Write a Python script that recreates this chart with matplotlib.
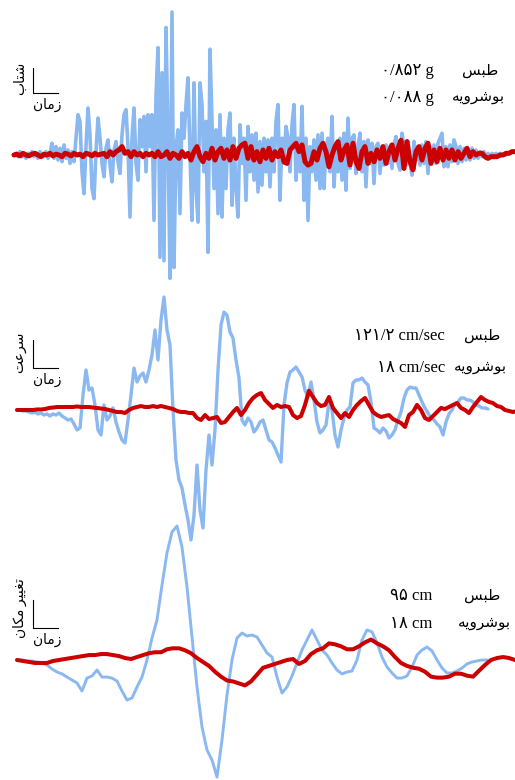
import numpy as np
import matplotlib.pyplot as plt
from matplotlib.lines import Line2D

W, H = 515, 780
BLUE = '#8ab8f0'
RED = '#cc0000'
FAM = ['Liberation Serif', 'DejaVu Sans']

# ---- acceleration (g) ----
# Tabas, one sample every 0.2 s
tabas_acc = np.array([
    0, 0.01, -0.01, 0.02, -0.01, 0.01, -0.02, 0.01, 0, 0.02, -0.01, 0.01, -0.02, 0.02, 0, -0.01, 0.02, -0.02, 0.01,
    0.07, -0.02, 0.05, -0.03, 0.04, -0.04, 0.06, -0.02, 0.03, -0.05, 0.02, -0.04,
    0.10, 0.24, 0.20, -0.10, -0.23, 0.05, 0.28, 0.12, -0.20, -0.26, 0.02, 0.22, 0.10,
    -0.05, -0.13, 0.04, 0.09, -0.06, -0.16, 0.03, 0.08, -0.04, -0.11,
    0.12, 0.24, 0.27, 0.05, -0.37, 0.10, 0.28, -0.05, -0.15, 0.21, 0.05, 0.23, -0.10, 0.24, 0.05, 0.24,
    -0.39, 0.35, 0.64, -0.61, 0.49, -0.63, 0.76, 0.10, -0.735, 0.852, -0.67, 0.05, 0.15, -0.35,
    0.25, 0.10, 0.30, 0.46, 0.0, -0.39, 0.43, -0.20, -0.40, 0.43, 0.30, -0.10, 0.20,
    -0.58, 0.63, 0.20, -0.20, 0.15, -0.35, 0.24,
    -0.37, 0.10, -0.20, 0.15, 0.25, -0.30, 0.10, -0.20, -0.37, 0.18,
    -0.05, 0.10, -0.27, 0.17, -0.10, 0.12, -0.15, 0.13, -0.22, 0.08, -0.18, 0.10, -0.10, 0.09, -0.19,
    0.10, -0.10, 0.20, 0.30, -0.27, 0.10, -0.05, 0.17, 0.10, -0.10, 0.18, 0.30, -0.15, 0.10, -0.10,
    0.29, -0.27, 0.10, -0.39, 0.05, -0.10, 0.09, -0.15, 0.12, -0.20, 0.13, -0.20, 0.05, 0.10, -0.10,
    0.23, -0.19, 0.05, -0.10, 0.10, -0.15, 0.13, -0.21, 0.22, -0.08, 0.10, 0.12, -0.11, 0.05, 0.13,
    -0.10, 0.08, -0.19, 0.09, -0.05, 0.07, -0.17, 0.05, 0.07, -0.11, 0.05, -0.06, 0.06, -0.05, 0.05,
    -0.08, 0.06, 0.11, -0.05, -0.09, 0.13, 0.05, -0.06, 0.08, -0.05, -0.12, 0.08, -0.03, 0.05, -0.06,
    0.06, -0.05, 0.08, -0.11, 0.05, -0.04, 0.06, -0.05, 0.07, 0.10, 0.13, -0.07, 0.05, -0.07, 0.06,
    -0.04, 0.09, 0.05, -0.05, 0.05, -0.04, 0.04, -0.03, 0.03, -0.03, 0.04, -0.02, 0.03, -0.02, 0.02,
    -0.01, 0.02, -0.02, 0.01, -0.01, 0.01, 0, 0.01, -0.01, 0.01, 0, 0, 0,
])
# Boushehrieh, one sample every 0.3 s
boush_acc = np.array([
    0, 0.005, -0.005, 0.01, 0, -0.005, 0.005, 0.01, 0, -0.01, 0.005, 0, 0.01, -0.005, 0.005,
    0, -0.01, 0.01, 0.005, -0.005, 0.01, 0, 0.005, -0.01, 0.01, 0.005, -0.005, 0.01, 0, 0.005,
    0.01, -0.01, 0.02, 0.0, 0.02, 0.03, 0.05, 0.01, 0.02, -0.01, 0.02, 0.0, 0.01, -0.01, 0.01, 0.0,
    0.01, -0.01, 0.02, -0.01, 0.0, 0.02, -0.02, 0.01, 0.0, -0.02, 0.02, -0.01, 0.01, -0.03, 0.02, 0.05,
    -0.01, -0.04, 0.01, -0.02, 0.04, -0.03, 0.02, 0.04, -0.02, 0.03, -0.03, 0.05, -0.02, 0.04, 0.06, 0.07,
    -0.02, 0.05, -0.03, 0.02, -0.04, 0.03, -0.02, 0.04, -0.03, 0.02, -0.01, 0.03, -0.04, -0.05, 0.03, 0.05,
    0.07, 0.02, 0.06, -0.04, -0.06, -0.05, 0.02, -0.03, 0.04, 0.07, 0.02, -0.07, 0.0, 0.05, 0.08, -0.03,
    0.03, 0.06, -0.06, 0.07, -0.04, -0.08, 0.02, 0.05, -0.05, 0.01, -0.04, 0.03, -0.02, 0.05, -0.05, 0.02,
    0.06, -0.03, 0.04, 0.088, -0.08, 0.08, -0.04, -0.088, 0.02, 0.05, -0.03, 0.04, 0.07, -0.05, 0.03, -0.04,
    0.04, -0.03, 0.03, -0.02, 0.03, -0.03, 0.02, -0.02, 0.01, 0.04, -0.01, 0.02, 0.0, 0.01, 0.01, -0.01,
    -0.02, -0.01, -0.01, -0.01, 0.0, 0.0, 0.01, 0.01, 0.02, 0.02,
])

# ---- velocity (cm/sec) ----
# Tabas, one sample every 0.3 s
tabas_vel = np.array([
    0, 0, -0.9, -0.9, -1.9, -2.8, -1.9, -3.7, -2.8, -4.7, -3.7, -5.6, -3.7, -4.7, -2.8, -5.6, -7.5, -9.3,
    -8.4, -13.0, -18.6, -16.8, 14.0, 37.3, 18.6, 20.5, 4.7, -18.6, -23.3, 4.7, -9.3, -5.6, 1.9, -11.2,
    -20.5, -28.0, -30.8, -9.3, 14.0, 39.1, 26.1, 31.7, 34.5, 26.1, 37.3, 51.3, 74.6, 46.6, 83.9, 105.3,
    74.6, 60.6, 0, -46.6, -65.2, -72.7, -88.5, -102.5, -121.2, -97.9, -51.3, -93.2, -110.0, -55.9, -23.3,
    -51.3, -18.6, 37.3, 79.2, 91.3, 88.5, 72.7, 67.1, 46.6, 29.8, -9.3, -14.0, -7.5, -11.2, -20.5, -16.8,
    -11.2, -9.3, -18.6, -28.0, -29.8, -35.4, -41.9, -48.5, 4.7, 25.2, 35.4, 37.3, 40.1, 35.4, 30.8, 18.6,
    12.1, 26.1, 9.3, -11.2, -21.4, -18.6, -14.0, 7.5, 0, -23.3, -34.5, -18.6, -7.5, 0, 2.8, 25.2, 28.0,
    28.0, 29.8, 26.1, 23.3, 7.5, -16.8, -18.6, -21.4, -16.8, -19.6, -26.1, -23.3, -18.6, -9.3, -1.9, 11.2,
    18.6, 21.4, 20.5, 20.5, 14.0, 7.5, 1.9, -2.8, -7.5, -9.3, -13.0, -15.8, -23.3, -11.2, -3.7, 0, 5.6,
    7.5, 11.2, 11.2, 9.3, 9.3, 7.5, 4.7, 3.7, 1.9, 1.9, 0.9,
])
# Boushehrieh, one sample every 0.4 s
boush_vel = np.array([
    0, 0, 0, 0, 0, 0.5, 0.5, 0.9, 1.9, 2.3,
    2.8, 2.8, 2.8, 2.8, 2.8, 3.3, 2.8, 2.8, 2.8, 2.3,
    1.9, 1.4, 0.9, 0, -0.9, -1.9, -1.9, -2.8, 0, 1.9,
    2.8, 3.7, 2.8, 2.8, 3.7, 2.8, 3.7, 2.8, 1.9, 0.9,
    -0.9, -1.9, -1.9, -2.8, -2.8, -7.5, -9.3, -4.7, -8.4, -7.5,
    -6.5, -12.1, -11.2, -6.5, -1.9, 1.9, -4.7, 0, 6.5, 11.2,
    14.0, 15.8, 9.3, 5.6, 1.9, 4.7, 2.8, 3.7, 2.8, -4.7,
    -7.5, -5.6, 4.7, 18.0, 12.1, 6.5, 3.7, 4.7, 12.1, 1.9,
    -2.8, -7.5, -2.8, -6.5, 0, 4.7, 8.4, 11.2, 4.7, -1.9,
    -4.7, -6.5, -5.6, -4.7, -8.4, -10.3, -12.1, -15.8, -4.7, -1.9,
    4.7, 0, -7.5, -9.3, -5.6, -1.9, 1.9, 0.9, 2.8, 4.7,
    6.5, 1.9, 0, -2.8, 2.8, 7.5, 12.1, 9.3, 7.5, 6.5,
    3.7, 2.8, 0, -0.9, -1.9, -0.9,
])

# ---- displacement (cm) ----
# Tabas, one sample every 0.5 s
tabas_disp = np.array([
    0, 0, -0.7, -0.7, -1.4, -2.1, -3.5, -6.4, -8.5, -9.9, -12.1, -14.2, -16.3, -22.0, -12.8, -11.3,
    -7.1, -12.1, -12.1, -12.8, -14.9, -22.0, -28.4, -26.9, -19.1, -12.1, 0, 15.6, 28.4, 53.2, 75.9,
    90.8, 95.0, 80.1, 51.8, 16.3, -19.1, -47.5, -63.8, -70.9, -83.0, -56.7, -24.8, 0, 15.6, 19.1, 17.0,
    17.7, 16.3, 10.6, 5.0, 2.1, -12.1, -23.4, -19.1, -11.3, -2.1, 7.1, 14.2, 21.3, 14.2, 7.1, 3.5, -2.1,
    -7.1, -9.9, -8.5, -7.8, 0, 14.2, 21.3, 19.9, 12.1, 2.1, -5.0, -9.2, -12.8, -12.8, -11.3, -5.0, 3.5,
    7.1, 9.2, 6.4, 0, -5.7, -9.2, -9.2, -7.8, -5.7, -2.8, -1.4, -0.7, 0, 0,
])
# Boushehrieh, one sample every 0.6 s
boush_disp = np.array([
    0, -0.7, -1.4, -2.1, -2.1, -2.1, -0.7, 0, 0.7, 1.4,
    2.1, 2.8, 3.5, 3.5, 4.2, 4.2, 3.5, 2.8, 1.4, 0.7,
    2.1, 3.5, 4.8, 5.5, 5.5, 7.6, 8.3, 8.3, 6.9, 4.8,
    1.4, -1.4, -4.2, -8.3, -11.8, -14.5, -15.2, -16.6, -18.0, -15.2,
    -10.4, -5.5, -4.2, -2.8, -1.4, 0, 0.7, -2.8, -0.7, 4.2,
    6.9, 8.3, 11.8, 11.1, 9.7, 7.6, 7.6, 9.7, 12.5, 14.5,
    11.8, 9.7, 6.9, 2.1, -2.1, -4.2, -5.5, -6.2, -8.3, -11.8,
    -12.5, -12.5, -11.8, -9.7, -9.7, -11.1, -11.8, -7.6, -3.5, 0,
    1.4, 2.1, 1.4, 0,
])

# Persian labels, pre-shaped (presentation forms, visual order)
TABAS = '\uFEB2\uFE92\uFEC3'
BOUSH = '\uFEEA\uFEF3\uFEED\uFEAE\uFEB7\uFEEE\uFE91'
ZAMAN = '\uFEE5\uFE8E\uFEE3\uFEAF'
SHETAB = '\uFE8F\uFE8E\uFE98\uFEB7'
SORAT = '\uFE96\uFECB\uFEAE\uFEB3'
JABEJAYI = '\uFEE5\uFE8E\uFEDC\uFEE3 \uFEAE\uFEF4\uFEF4\uFED0\uFE97'

panels = [
    # baseline px, units per px, start px, (series, dt, lw), peak texts, label layout
    dict(base=155, per=0.852 / 143, x0=14,
         tabas=(tabas_acc, 0.2, 2.6), boush=(boush_acc, 0.3, 3.6),
         vals=('\u06F0/\u06F8\u06F5\u06F2 g', '\u06F0/\u06F0\u06F8\u06F8 g'),
         rows=(71, 98), vx=434, nx=(498, 505), ylab=SHETAB, ylab_y=78, axis_y=(68, 93)),
    dict(base=410, per=121.2 / 130, x0=17,
         tabas=(tabas_vel, 0.3, 2.4), boush=(boush_vel, 0.4, 2.9),
         vals=('\u06F1\u06F2\u06F1/\u06F2 cm/sec', '\u06F1\u06F8 cm/sec'),
         rows=(336, 368), vx=445, nx=(500, 507), ylab=SORAT, ylab_y=352, axis_y=(340, 368)),
    dict(base=660, per=95.0 / 134, x0=17,
         tabas=(tabas_disp, 0.5, 2.1), boush=(boush_disp, 0.6, 2.9),
         vals=('\u06F9\u06F5 cm', '\u06F1\u06F8 cm'),
         rows=(596, 624), vx=432, nx=(500, 511), ylab=JABEJAYI, ylab_y=608, axis_y=(600, 628)),
]

fig = plt.figure(figsize=(W / 100, H / 100), dpi=100)

for p in panels:
    ax = fig.add_axes([0, 0, 1, 1])
    ax.patch.set_alpha(0)
    ax.axis('off')
    ax.set_xlim(-p['x0'] / 10, (W - p['x0']) / 10)
    ax.set_ylim(-(H - p['base']) * p['per'], p['base'] * p['per'])
    for (y, dt, lw), c, z in [(p['tabas'], BLUE, 1), (p['boush'], RED, 2)]:
        t = np.arange(len(y)) * dt
        ax.plot(t, y, color=c, lw=lw, zorder=z, solid_joinstyle='round', solid_capstyle='round')

    # station names and peak values
    for row, val, nx, name in zip(p['rows'], p['vals'], p['nx'], (TABAS, BOUSH)):
        fig.text(p['vx'] / W, 1 - row / H, val, ha='right', va='center', fontsize=12, family=FAM)
        fig.text(nx / W, 1 - row / H, name, ha='right', va='center', fontsize=11, family=FAM)

    # little amplitude/time key on the left
    y0, y1 = p['axis_y']
    fig.add_artist(Line2D([33 / W, 33 / W, 58 / W], [1 - y0 / H, 1 - y1 / H, 1 - y1 / H],
                          color='black', lw=0.8, transform=fig.transFigure))
    fig.text(47 / W, 1 - (y1 + 12) / H, ZAMAN, ha='center', va='center', fontsize=10, family=FAM)
    fig.text(20 / W, 1 - p['ylab_y'] / H, p['ylab'], ha='center', va='center', rotation=90,
             fontsize=10, family=FAM)

fig.savefig('out.png', dpi=100, facecolor='white')
